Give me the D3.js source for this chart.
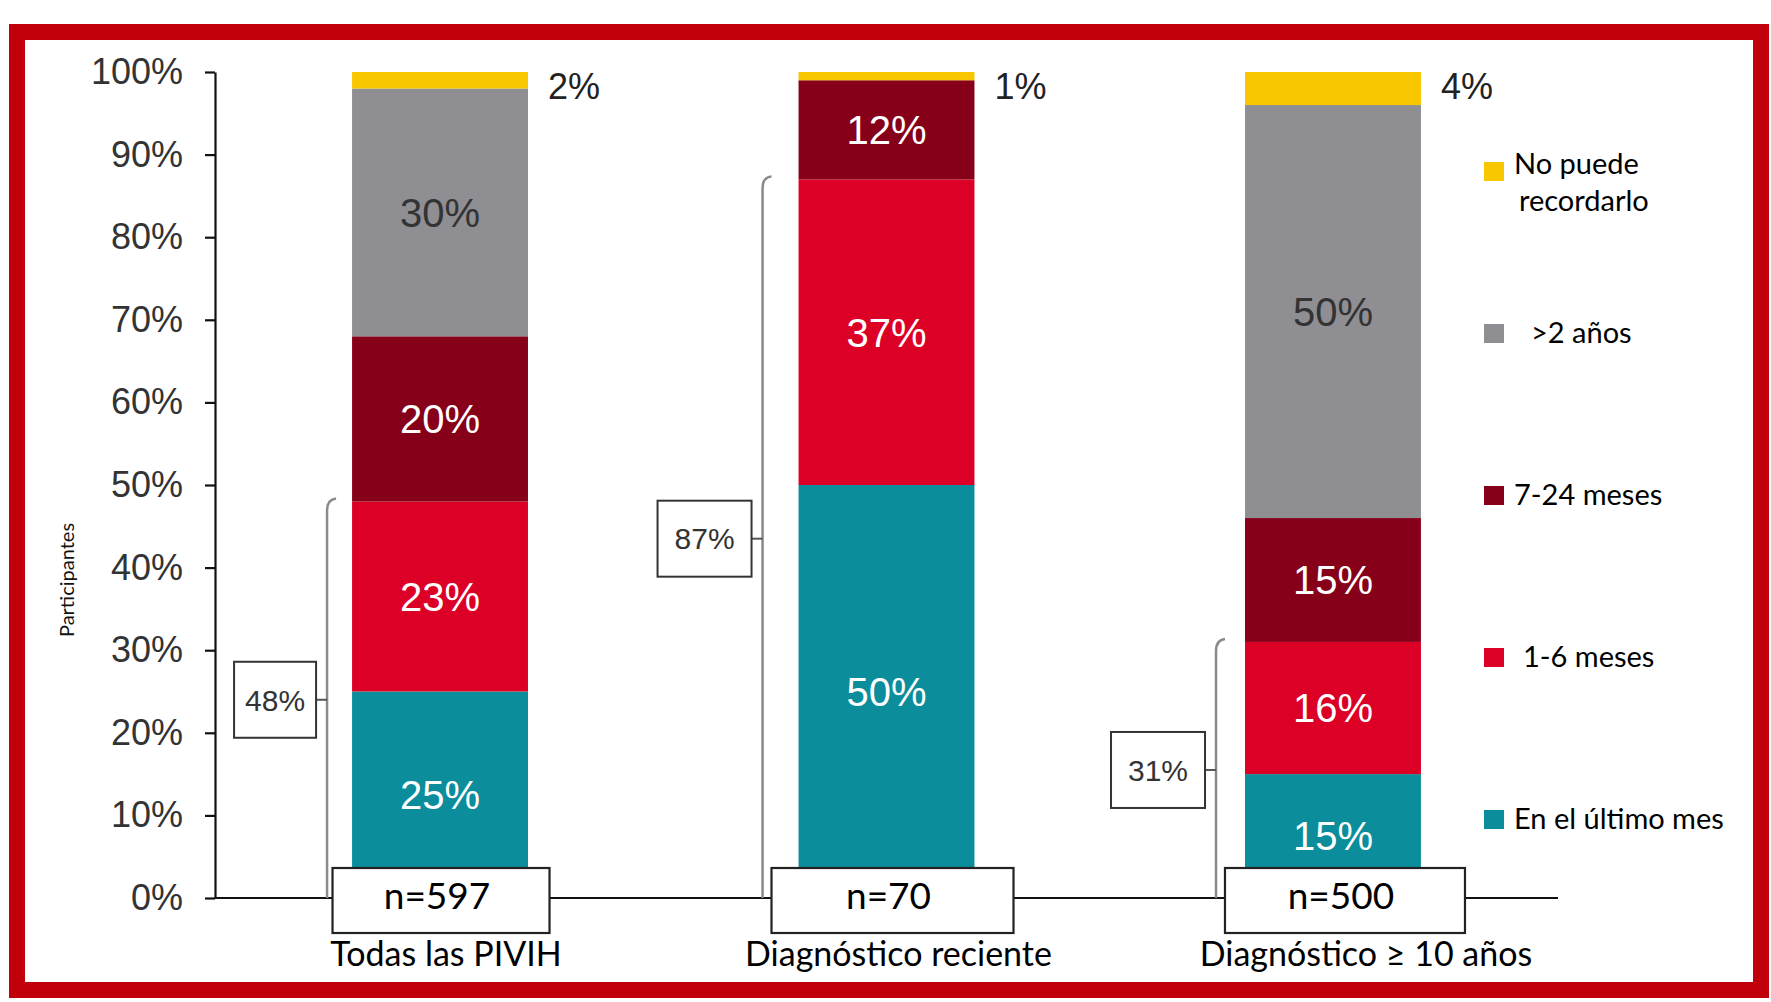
<!DOCTYPE html>
<html>
<head>
<meta charset="utf-8">
<script src="https://cdn.jsdelivr.net/npm/d3@7"></script>
<style>
  html, body { margin: 0; padding: 0; background: #ffffff; }
  svg { display: block; }
</style>
</head>
<body>
<svg id="chart" width="1771" height="1002"></svg>
<script>
// ---------------- DATA ----------------
const categories = ["Todas las PIVIH", "Diagnóstico reciente", "Diagnóstico ≥ 10 años"];
const sampleSizes = ["n=597", "n=70", "n=500"];
const seriesNames = ["En el último mes", "1-6 meses", "7-24 meses", ">2 años", "No puede recordarlo"];
const ultimoMes = [25, 50, 15];
const unoSeisMeses = [23, 37, 16];
const sieteVeinticuatroMeses = [20, 12, 15];
const masDosAnios = [30, 0, 50];
const noPuedeRecordarlo = [2, 1, 4];
const bracketTotals = [48, 87, 31];
const yTickValues = [0, 10, 20, 30, 40, 50, 60, 70, 80, 90, 100];
const legendLines = [["En el último mes"], ["1-6 meses"], ["7-24 meses"], [">2 años"], ["No puede", "recordarlo"]];

// ---------------- STYLE ----------------
const seriesColors = ["#0b8d9b", "#dc0027", "#86001a", "#8e8e93", "#f9c700"];
const labelColors = ["#ffffff", "#ffffff", "#ffffff", "#333333", "#333333"];
const frameColor = "#c1000b";
const arial = "'Liberation Sans', Arial, sans-serif";
const calibri = "Lato, 'Open Sans', sans-serif";

const svg = d3.select("#chart");

// Build table from arrays
const seriesArrays = [ultimoMes, unoSeisMeses, sieteVeinticuatroMeses, masDosAnios, noPuedeRecordarlo];
const table = categories.map((c, i) => {
  const row = { category: c };
  seriesNames.forEach((s, k) => row[s] = seriesArrays[k][i]);
  return row;
});
const stacked = d3.stack().keys(seriesNames)(table);

// Scales
const x = d3.scaleBand().domain(categories).range([215, 1558]).paddingInner(0.606).paddingOuter(0.307);
const y = d3.scaleLinear().domain([0, 100]).range([898, 72]);

// Frame
svg.append("rect")
  .attr("x", 17).attr("y", 32).attr("width", 1744).attr("height", 958)
  .attr("fill", "#ffffff").attr("stroke", frameColor).attr("stroke-width", 16);

// Bars
const layers = svg.append("g").selectAll("g").data(stacked).join("g")
  .attr("fill", (d, i) => seriesColors[i]);
layers.selectAll("rect").data(d => d).join("rect")
  .attr("x", d => x(d.data.category))
  .attr("width", x.bandwidth())
  .attr("y", d => y(d[1]))
  .attr("height", d => y(d[0]) - y(d[1]));

// Inside labels (not the top small segment)
stacked.forEach((layer, k) => {
  if (k === 4) return;
  svg.append("g").selectAll("text").data(layer.filter(d => d[1] - d[0] > 0)).join("text")
    .attr("x", d => x(d.data.category) + x.bandwidth() / 2)
    .attr("y", d => (y(d[0]) + y(d[1])) / 2)
    .attr("dy", "0.36em")
    .attr("text-anchor", "middle")
    .attr("font-family", arial)
    .attr("font-size", 40)
    .attr("fill", labelColors[k])
    .text(d => (d[1] - d[0]) + "%");
});

// Outside labels for the top segment
svg.append("g").selectAll("text").data(stacked[4]).join("text")
  .attr("x", d => x(d.data.category) + x.bandwidth() + 20)
  .attr("y", y(100) + 14)
  .attr("dy", "0.36em")
  .attr("font-family", arial)
  .attr("font-size", 36)
  .attr("fill", "#222222")
  .text(d => (d[1] - d[0]) + "%");

// Y axis
const yAxis = d3.axisLeft(y).tickValues(yTickValues).tickFormat(d => d + "%")
  .tickSize(10).tickSizeOuter(0).tickPadding(22);
const gy = svg.append("g").attr("transform", "translate(215,0)").call(yAxis);
gy.selectAll("path, line").attr("stroke", "#111111").attr("stroke-width", 2.2);
gy.selectAll("text").attr("font-family", arial).attr("font-size", 36).attr("fill", "#333333");

// X axis line (baseline)
svg.append("line")
  .attr("x1", 215).attr("x2", x.range()[1]).attr("y1", y(0)).attr("y2", y(0))
  .attr("stroke", "#111111").attr("stroke-width", 2.2);

// Y axis title
svg.append("text")
  .attr("transform", `translate(${74},${580}) rotate(-90)`)
  .attr("text-anchor", "middle")
  .attr("font-family", calibri)
  .attr("font-size", 20)
  .attr("fill", "#111111")
  .text("Participantes");

// Brackets with boxed totals
const bracketOffset = [25, 36, 29];
categories.forEach((c, i) => {
  const bx = x(c) - bracketOffset[i];
  const top = y(bracketTotals[i]);
  const bottom = y(0);
  const mid = (top + bottom) / 2;
  svg.append("path")
    .attr("d", `M${bx + 9},${top - 3} Q${bx},${top - 2} ${bx},${top + 9} L${bx},${bottom}`)
    .attr("fill", "none").attr("stroke", "#8a8a8a").attr("stroke-width", 2.5);
  svg.append("line")
    .attr("x1", bx).attr("x2", bx - 11).attr("y1", mid).attr("y2", mid)
    .attr("stroke", "#555555").attr("stroke-width", 2);
  const bw = i === 0 ? 82 : 94, bh = 76;
  svg.append("rect")
    .attr("x", bx - 11 - bw).attr("y", mid - bh / 2).attr("width", bw).attr("height", bh)
    .attr("fill", "#ffffff").attr("stroke", "#333333").attr("stroke-width", 2);
  svg.append("text")
    .attr("x", bx - 11 - bw / 2).attr("y", mid).attr("dy", "0.36em")
    .attr("text-anchor", "middle")
    .attr("font-family", arial).attr("font-size", 30).attr("fill", "#333333")
    .text(bracketTotals[i] + "%");
});

// n boxes
const nBoxWidth = [217, 242, 240];
const nBoxShift = [1, 6, 12];
categories.forEach((c, i) => {
  const cx = x(c) + x.bandwidth() / 2 + nBoxShift[i];
  svg.append("rect")
    .attr("x", cx - nBoxWidth[i] / 2).attr("y", 868).attr("width", nBoxWidth[i]).attr("height", 65)
    .attr("fill", "#ffffff").attr("stroke", "#222222").attr("stroke-width", 2.2);
  svg.append("text")
    .attr("x", cx - 4).attr("y", 909)
    .attr("text-anchor", "middle")
    .attr("font-family", calibri).attr("font-size", 37).attr("fill", "#000000")
    .text(sampleSizes[i]);
});

// Category labels
const catShift = [6, 12, 33];
svg.append("g").selectAll("text").data(categories).join("text")
  .attr("x", (d, i) => x(d) + x.bandwidth() / 2 + catShift[i])
  .attr("y", 966)
  .attr("text-anchor", "middle")
  .attr("font-family", calibri).attr("font-size", 34).attr("fill", "#000000")
  .text(d => d);

// Legend (top to bottom: reversed series order)
const legendOrder = [4, 3, 2, 1, 0];
const legendTextShift = [0, 9, 0, 17, 0];
legendOrder.forEach((k, j) => {
  const cy = 172 + j * 162;
  svg.append("rect")
    .attr("x", 1484).attr("y", cy - 10).attr("width", 20).attr("height", 19)
    .attr("fill", seriesColors[k]);
  const t = svg.append("text")
    .attr("x", 1514 + legendTextShift[k]).attr("y", cy + (k === 4 ? 2 : 9))
    .attr("font-family", calibri).attr("font-size", 29).attr("fill", "#000000");
  legendLines[k].forEach((line, li) => {
    t.append("tspan").attr("x", 1514 + legendTextShift[k] + li * 5).attr("dy", li === 0 ? 0 : 37).text(line);
  });
});
</script>
</body>
</html>
